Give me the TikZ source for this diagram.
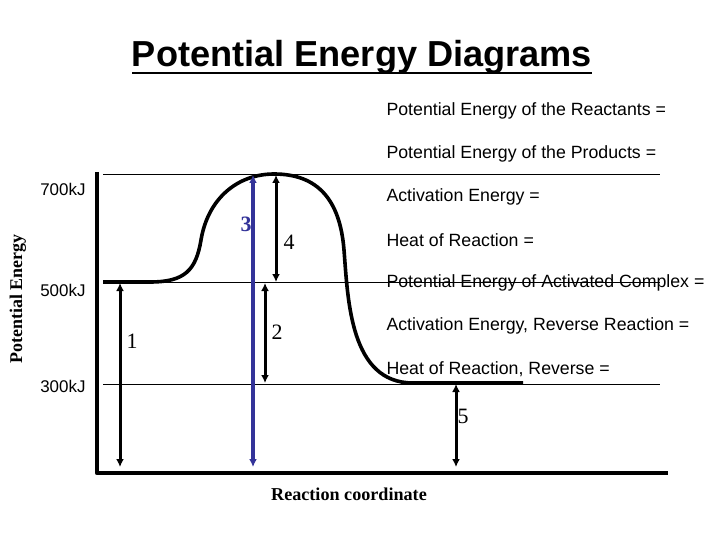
\documentclass[tikz,border=0pt]{standalone}
\usepackage{fontspec}
\setmainfont{Liberation Sans}
\newfontfamily\timesfont{Liberation Serif}
\usetikzlibrary{arrows.meta}
\definecolor{navyarrow}{RGB}{51,51,153}

\begin{document}
\begin{tikzpicture}[x=1bp,y=-1bp,line join=round,
  grid/.style={line width=0.8bp},
  dbl/.style={line width=3bp,{Latex[length=8bp,width=8bp]}-{Latex[length=8bp,width=8bp]}},
  num/.style={font=\timesfont\fontsize{22}{22}\selectfont},
  kj/.style={font=\fontsize{17}{17}\selectfont,anchor=east},
  eqn/.style={font=\fontsize{17.8}{17.8}\selectfont,anchor=west}]
  \useasboundingbox (0,0) rectangle (720,540);
  % title
  \node[font=\bfseries\fontsize{36.3}{36.3}\selectfont,anchor=base] (title) at (362,67) {Potential Energy Diagrams};
  \draw[line width=2.4bp] ([yshift=-6bp,xshift=4bp]title.base west) -- ([yshift=-6bp,xshift=-4bp]title.base east);
  % axes and levels
  \coordinate (O) at (97,473); \coordinate (Ytop) at (97,172); \coordinate (Xend) at (668,473);
  \draw[line width=4.5bp] (Ytop) -- (O) -- (Xend);
  \foreach \y/\lab in {174/700,282/500,384/300}
    \draw[grid] (103,\y) -- (660,\y);
  \node[kj] (k700) at (89,189) {700kJ};
  \node[kj] (k500) at (89,290) {500kJ};
  \node[kj] (k300) at (89,386) {300kJ};
  \node[font=\timesfont\bfseries\fontsize{18}{18}\selectfont,rotate=90] (ylab) at (18,299) {Potential Energy};
  \node[font=\timesfont\bfseries\fontsize{18.2}{18.2}\selectfont] (xlab) at (349,494) {Reaction coordinate};
  % energy curve
  \draw[line width=3.6bp] (103,282) -- (150,282) .. controls (185,282) and (196,270) .. (201,240)
    .. controls (208,198) and (238,174) .. (274,174)
    .. controls (318,174) and (340,200) .. (344,250)
    .. controls (348,300) and (350,383) .. (413,383) -- (523,383);
  % arrows
  \coordinate (a1t) at (120,283); \coordinate (a1b) at (120,467);
  \coordinate (a3t) at (253,175); \coordinate (a3b) at (253,467);
  \coordinate (a4t) at (276,175); \coordinate (a4b) at (276,282);
  \coordinate (a2t) at (265,283); \coordinate (a2b) at (265,383);
  \coordinate (a5t) at (456,384); \coordinate (a5b) at (456,467);
  \draw[dbl] (a1t) -- (a1b);
  \draw[dbl,navyarrow,line width=3.6bp] (a3t) -- (a3b);
  \draw[dbl] (a4t) -- (a4b);
  \draw[dbl] (a2t) -- (a2b);
  \draw[dbl] (a5t) -- (a5b);
  \node[num] (n1) at (132,341) {1};
  \node[num] (n2) at (277,332) {2};
  \node[num,navyarrow,font=\timesfont\bfseries\fontsize{22}{22}\selectfont] (n3) at (246,224) {3};
  \node[num] (n4) at (289,242) {4};
  \node[num] (n5) at (463,416) {5};
  % questions
  \node[eqn] (q1) at (383,111) {Potential Energy of the Reactants =};
  \node[eqn] (q2) at (383,154) {Potential Energy of the Products =};
  \node[eqn] (q3) at (383,197) {Activation Energy =};
  \node[eqn] (q4) at (383,240) {Heat of Reaction =};
  \node[eqn] (q5) at (383,283) {Potential Energy of Activated Complex =};
  \node[eqn] (q6) at (383,326) {Activation Energy, Reverse Reaction =};
  \node[eqn] (q7) at (383,369) {Heat of Reaction, Reverse =};
\end{tikzpicture}
\end{document}
